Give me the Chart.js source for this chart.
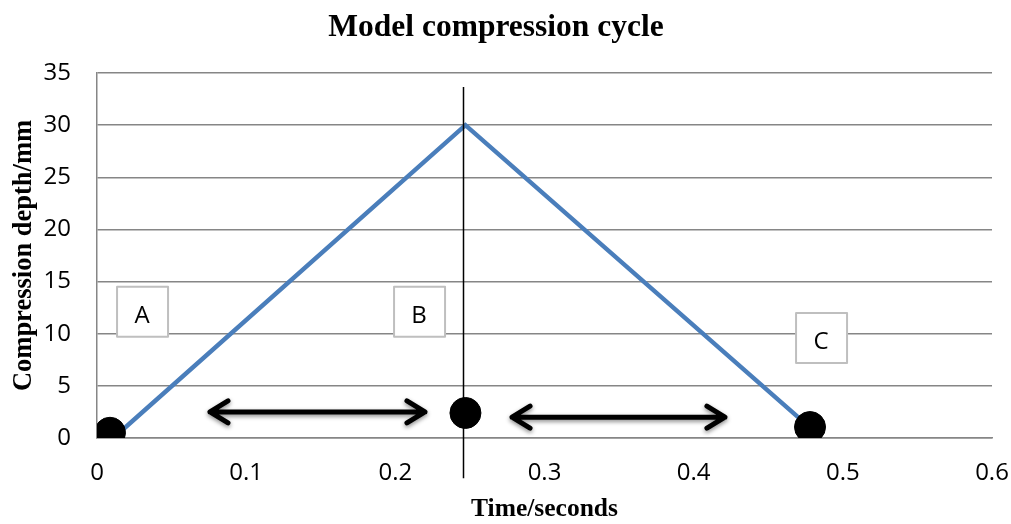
<!DOCTYPE html>
<html>
<head>
<meta charset="utf-8">
<script src="https://cdn.jsdelivr.net/npm/chart.js@4/dist/chart.umd.min.js"></script>
<style>
  html, body { margin: 0; padding: 0; background: #fff; }
  canvas { display: block; }
</style>
</head>
<body>
<canvas id="grafico" width="1011" height="524"></canvas>
<script>
// =========================================================
// 1. DATA
// =========================================================
const lineaX = [0.011, 0.247, 0.478];   // blue compression line
const lineaY = [0, 30, 1];

const puntosX = [0.0087, 0.247, 0.478]; // black dots
const puntosY = [0.5, 2.4, 1.05];

const flechasX1 = [0.0744, 0.2769];     // double arrows (start, end, height)
const flechasX2 = [0.2212, 0.4223];
const flechasY = [2.5, 2.0];

const cajasTexto = ['A', 'B', 'C'];     // label boxes
const cajasX = [0.0302, 0.2159, 0.4854];
const cajasY = [12.1, 12.1, 9.6];

const lineaVerticalX = 0.2454;          // thin black divider
const lineaVerticalY = [33.65, -3.85];

const ticksY = [0, 5, 10, 15, 20, 25, 30, 35];
const ticksX = [0, 0.1, 0.2, 0.3, 0.4, 0.5, 0.6];

// =========================================================
// 2. PLUGIN: arrows, boxes and the vertical line
// =========================================================
const extras = {
    id: 'extras',
    afterDatasetsDraw(chart) {
        const { ctx, scales: { x, y } } = chart;
        ctx.save();

        // vertical line (goes past the axis on both ends)
        const vx = Math.round(x.getPixelForValue(lineaVerticalX)) + 0.5;
        ctx.strokeStyle = '#000';
        ctx.lineWidth = 1.5;
        ctx.beginPath();
        ctx.moveTo(vx, y.getPixelForValue(lineaVerticalY[0]));
        ctx.lineTo(vx, y.getPixelForValue(lineaVerticalY[1]));
        ctx.stroke();

        // double arrows with a soft shadow
        ctx.shadowColor = 'rgba(0,0,0,0.45)';
        ctx.shadowBlur = 4;
        ctx.shadowOffsetY = 2;
        ctx.lineWidth = 5;
        ctx.lineCap = 'round';
        ctx.lineJoin = 'round';
        flechasX1.forEach((x1, i) => {
            const a = x.getPixelForValue(x1);
            const b = x.getPixelForValue(flechasX2[i]);
            const py = y.getPixelForValue(flechasY[i]);
            ctx.beginPath();
            ctx.moveTo(a + 2, py); ctx.lineTo(b - 2, py);
            ctx.moveTo(a + 20, py - 11); ctx.lineTo(a + 2, py); ctx.lineTo(a + 20, py + 11);
            ctx.moveTo(b - 20, py - 11); ctx.lineTo(b - 2, py); ctx.lineTo(b - 20, py + 11);
            ctx.stroke();
        });
        ctx.shadowColor = 'transparent';

        // text boxes A, B, C
        ctx.font = '24px "Open Sans", sans-serif';
        ctx.textAlign = 'center';
        ctx.textBaseline = 'middle';
        cajasTexto.forEach((t, i) => {
            const cx = x.getPixelForValue(cajasX[i]);
            const cy = y.getPixelForValue(cajasY[i]);
            ctx.fillStyle = '#fff';
            ctx.fillRect(cx - 25, cy - 25, 51, 50);
            ctx.strokeStyle = '#bfbfbf';
            ctx.lineWidth = 2;
            ctx.strokeRect(cx - 25, cy - 25, 51, 50);
            ctx.fillStyle = '#000';
            ctx.fillText(t, cx, cy + 4);
        });
        ctx.restore();
    }
};

// =========================================================
// 3. CHART
// =========================================================
const fuenteSerif = '"Liberation Serif", "Times New Roman", serif';
const fuenteTicks = '"Open Sans", sans-serif';

const ctx = document.getElementById('grafico').getContext('2d');
new Chart(ctx, {
    type: 'scatter',
    data: {
        datasets: [
            {
                label: 'Compression',
                data: lineaX.map((v, i) => ({ x: v, y: lineaY[i] })),
                showLine: true,
                borderColor: '#4a7ebb',
                borderWidth: 4.5,
                pointRadius: 0,
                order: 2
            },
            {
                label: 'Points',
                data: puntosX.map((v, i) => ({ x: v, y: puntosY[i] })),
                backgroundColor: '#000',
                borderColor: '#000',
                pointRadius: 15.5,
                order: 1
            }
        ]
    },
    options: {
        responsive: false,
        animation: false,
        layout: { padding: { left: 0, right: 19, top: 0, bottom: 0 } },
        plugins: {
            legend: { display: false },
            tooltip: { enabled: false },
            title: {
                display: true,
                text: 'Model compression cycle',
                color: '#000',
                font: { family: fuenteSerif, size: 31.5, weight: 'bold' },
                padding: { top: 8.6, bottom: 26.6 }
            }
        },
        scales: {
            x: {
                type: 'linear',
                min: 0, max: 0.6,
                afterBuildTicks: s => { s.ticks = ticksX.map(v => ({ value: v })); },
                afterFit: s => { s.height = 86; s.paddingLeft = 0; s.paddingRight = 0; },
                grid: { display: false, drawTicks: false },
                border: { display: true, color: '#868686', width: 1.5 },
                ticks: {
                    color: '#000',
                    padding: 21,
                    maxRotation: 0,
                    font: { family: fuenteTicks, size: 24 },
                    callback: v => Number(v.toFixed(1)).toString()
                },
                title: {
                    display: true,
                    text: 'Time/seconds',
                    color: '#000',
                    font: { family: fuenteSerif, size: 25.5, weight: 'bold' },
                    padding: { top: 0, bottom: -1 }
                }
            },
            y: {
                min: 0, max: 35,
                afterBuildTicks: s => { s.ticks = ticksY.map(v => ({ value: v })); },
                afterFit: s => { s.width = 97; s.paddingTop = 0; s.paddingBottom = 0; },
                grid: { color: '#868686', lineWidth: 1.5, drawTicks: false },
                border: { display: true, color: '#868686', width: 1.5 },
                ticks: {
                    color: '#000',
                    padding: 26,
                    font: { family: fuenteTicks, size: 24 }
                },
                title: {
                    display: true,
                    text: 'Compression depth/mm',
                    color: '#000',
                    font: { family: fuenteSerif, size: 26.5, weight: 'bold' },
                    padding: { top: 8, bottom: 0 }
                }
            }
        }
    },
    plugins: [extras]
});
</script>
</body>
</html>
